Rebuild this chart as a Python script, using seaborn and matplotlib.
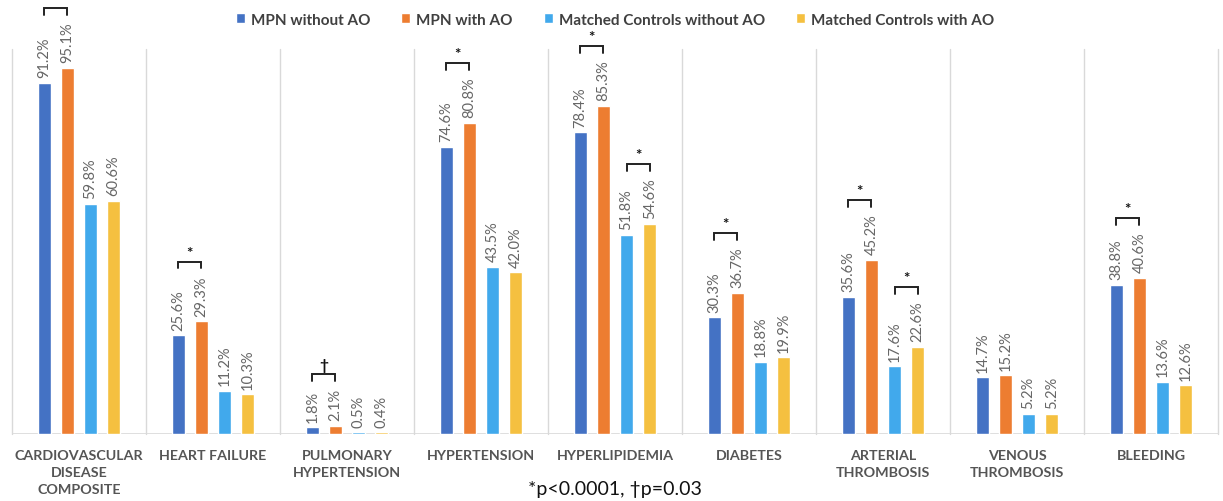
import matplotlib
matplotlib.use("Agg")
import matplotlib.pyplot as plt
import seaborn as sns
import pandas as pd

# chart data
categories = ["CARDIOVASCULAR\nDISEASE\nCOMPOSITE", "HEART FAILURE", "PULMONARY\nHYPERTENSION",
              "HYPERTENSION", "HYPERLIPIDEMIA", "DIABETES", "ARTERIAL\nTHROMBOSIS",
              "VENOUS\nTHROMBOSIS", "BLEEDING"]
series = ["MPN without AO", "MPN with AO", "Matched Controls without AO", "Matched Controls with AO"]
mpn_no_ao = [91.2, 25.6, 1.8, 74.6, 78.4, 30.3, 35.6, 14.7, 38.8]
mpn_ao = [95.1, 29.3, 2.1, 80.8, 85.3, 36.7, 45.2, 15.2, 40.6]
ctrl_no_ao = [59.8, 11.2, 0.5, 43.5, 51.8, 18.8, 17.6, 5.2, 13.6]
ctrl_ao = [60.6, 10.3, 0.4, 42.0, 54.6, 19.9, 22.6, 5.2, 12.6]
# significance brackets: (category index, first series, second series, symbol)
brackets = [(0, 0, 1, ""), (1, 0, 1, "*"), (2, 0, 1, "\u2020"), (3, 0, 1, "*"),
            (4, 0, 1, "*"), (4, 2, 3, "*"), (5, 0, 1, "*"), (6, 0, 1, "*"),
            (6, 2, 3, "*"), (8, 0, 1, "*")]
footnote = "*p<0.0001, \u2020p=0.03"

colors = ["#4472C4", "#ED7D31", "#41A9EC", "#F5C040"]
values = [mpn_no_ao, mpn_ao, ctrl_no_ao, ctrl_ao]

rows = []
for s, vals in zip(series, values):
    for c, v in zip(categories, vals):
        rows.append({"category": c, "series": s, "value": v})
df = pd.DataFrame(rows)

sns.set_style("white")
plt.rcParams["font.family"] = ["Lato", "DejaVu Sans"]

fig = plt.figure(figsize=(12.23, 5.02), dpi=100)
ax = fig.add_axes([12 / 1223, 67 / 502, 1206 / 1223, 385 / 502])

sns.barplot(data=df, x="category", y="value", hue="series", order=categories,
            hue_order=series, palette=colors, width=0.69, gap=0.41,
            saturation=1, ax=ax, legend=True)

ax.set_xlim(-0.5, len(categories) - 0.5)
ax.set_ylim(0, 100)
ax.set_xlabel("")
ax.set_ylabel("")
ax.set_yticks([])
for sp in ax.spines.values():
    sp.set_visible(False)

# separators and baseline
for i in range(len(categories) + 1):
    ax.axvline(i - 0.5, ymin=0, ymax=1, color="#D9D9D9", lw=1, clip_on=False, zorder=0)
ax.axhline(0, color="#D9D9D9", lw=1.2, zorder=0)

ax.tick_params(axis="x", length=0, pad=11)
ax.set_xticks(range(len(categories)))
ax.set_xticklabels(categories, fontsize=10.3, fontweight="bold", color="#555555",
                   linespacing=1.5, va="top")

# value labels
for cont in ax.containers:
    ax.bar_label(cont, labels=[f"{b.get_height():.1f}%" for b in cont],
                 rotation=90, padding=4, fontsize=10.5, color="#666666")

# brackets
for ci, a, b, sym in brackets:
    ca, cb = ax.containers[a], ax.containers[b]
    ba, bb = ca[ci], cb[ci]
    xa = ba.get_x() + ba.get_width() / 2
    xb = bb.get_x() + bb.get_width() / 2
    va, vb = values[a][ci], values[b][ci]
    top = max(va, vb)
    nchar = len(f"{top:.1f}%")
    y = top + 5.5 + 2.0 * nchar
    ax.plot([xa, xa, xb, xb], [y - 1.8, y, y, y - 1.8], color="#222222", lw=1.4,
            clip_on=False, solid_joinstyle="miter")
    if sym:
        ax.text((xa + xb) / 2, y + 0.5, sym, ha="center", va="bottom",
                fontsize=11, fontweight="bold", color="#111111", clip_on=False)

leg = ax.legend(loc="upper center", bbox_to_anchor=(0.5, 1.13), ncol=4, frameon=False,
                fontsize=11, handlelength=0.6, handleheight=0.6, handletextpad=0.4,
                columnspacing=2.0)
for t in leg.get_texts():
    t.set_fontweight("bold")
    t.set_color("#404040")

fig.text(0.503, 12 / 502, footnote, ha="center", va="center", fontsize=14, color="#111111")

fig.savefig("out.png", dpi=100)
